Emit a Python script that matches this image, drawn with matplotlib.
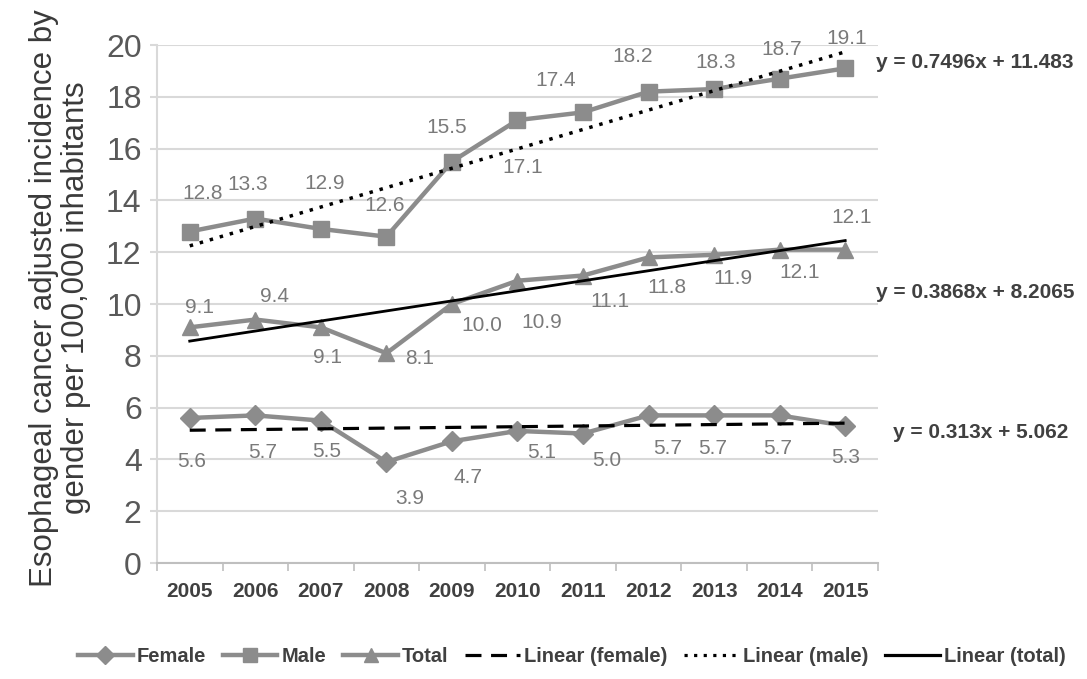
"""Esophageal cancer adjusted incidence by gender, 2005-2015, with linear trends."""

import matplotlib

matplotlib.use("Agg")
import matplotlib.pyplot as plt
import numpy as np
from matplotlib.lines import Line2D

years = ["2005", "2006", "2007", "2008", "2009", "2010", "2011", "2012", "2013", "2014", "2015"]
female = [5.6, 5.7, 5.5, 3.9, 4.7, 5.1, 5.0, 5.7, 5.7, 5.7, 5.3]
male = [12.8, 13.3, 12.9, 12.6, 15.5, 17.1, 17.4, 18.2, 18.3, 18.7, 19.1]
total = [9.1, 9.4, 9.1, 8.1, 10.0, 10.9, 11.1, 11.8, 11.9, 12.1, 12.1]
equations = ["y = 0.313x + 5.062", "y = 0.7496x + 11.483", "y = 0.3868x + 8.2065"]
y_ticks = [0, 2, 4, 6, 8, 10, 12, 14, 16, 18, 20]

SERIES_COLOR = "#8c8c8c"
LABEL_COLOR = "#7a7a7a"
TEXT_COLOR = "#404040"
GRID_COLOR = "#d9d9d9"
NARROW = ["Liberation Sans Narrow", "Liberation Sans", "DejaVu Sans"]

# label offsets in pixels (dx, dy), positive dy is up
female_offsets = [(2, -44), (7, -37), (6, -31), (23, -36), (16, -36), (24, -22),
                  (24, -27), (19, -33), (-1, -33), (-2, -33), (0, -32)]
male_offsets = [(13, 38), (-8, 34), (4, 45), (-2, 31), (-5, 34), (5, -47),
                (-27, 32), (-16, 35), (2, 27), (2, 29), (1, 30)]
total_offsets = [(10, 20), (19, 23), (7, -30), (33, -5), (30, -21), (24, -42),
                 (27, -26), (18, -30), (19, -24), (20, -23), (6, 32)]

plt.rcParams["font.family"] = ["Liberation Sans", "DejaVu Sans"]

figure = plt.figure(figsize=(10.87, 6.79), dpi=100)
axis = figure.add_axes([0.1444, 0.1708, 0.8077 - 0.1444, 0.9337 - 0.1708])

positions = np.arange(len(years))
series = [
    (female, "D", 10, female_offsets, "Female"),
    (male, "s", 11.5, male_offsets, "Male"),
    (total, "^", 12, total_offsets, "Total"),
]
for values, marker, size, offsets, name in series:
    axis.plot(positions, values, color=SERIES_COLOR, linewidth=3.2, marker=marker,
              markersize=size, markeredgecolor=SERIES_COLOR, zorder=3, label=name)
    for position, value, (dx, dy) in zip(positions, values, offsets):
        axis.annotate(f"{value:.1f}", (position, value), xytext=(dx, dy),
                      textcoords="offset pixels", ha="center", va="center",
                      fontsize=15, color=LABEL_COLOR, zorder=5)

# linear trendlines fitted on x = 1..11 like the spreadsheet does
trend_styles = [(female, (0, (5, 3)), 2.3), (male, (0, (1, 2)), 2.5), (total, "-", 2.0)]
x_fit = positions + 1
for values, style, width in trend_styles:
    slope, intercept = np.polyfit(x_fit, values, 1)
    axis.plot(positions, slope * x_fit + intercept, color="black", linestyle=style,
              linewidth=width, zorder=4)

equation_positions = [(893, 432), (876, 62), (876, 292)]
for text, (px, py) in zip(equations, equation_positions):
    figure.text(px / 1087, 1 - py / 679, text, ha="left", va="center",
                fontsize=15, fontweight="bold", color=TEXT_COLOR)

axis.set_xlim(-0.5, len(years) - 0.5)
axis.set_ylim(0, 20)
axis.set_yticks(y_ticks)
axis.set_yticklabels([str(tick) for tick in y_ticks], fontsize=23, color="#595959")
axis.set_xticks(positions)
axis.set_xticklabels(years, fontsize=15, fontweight="bold", color=TEXT_COLOR,
                     family=NARROW)
axis.set_xticks(np.arange(-0.5, len(years)), minor=True)
axis.tick_params(axis="x", which="major", length=0, pad=14)
axis.tick_params(axis="x", which="minor", length=6, color="#bfbfbf", width=1.2)
axis.tick_params(axis="y", length=5, color=GRID_COLOR, width=1.5, pad=6)
axis.grid(axis="y", color=GRID_COLOR, linewidth=1.5)
axis.set_axisbelow(True)
for side in ("top", "right"):
    axis.spines[side].set_visible(False)
axis.spines["left"].set_color(GRID_COLOR)
axis.spines["left"].set_linewidth(1.5)
axis.spines["bottom"].set_color("#bfbfbf")
axis.spines["bottom"].set_linewidth(1.5)

figure.text(0.055, 1 - 298 / 679,
            "Esophageal cancer adjusted incidence by\ngender per 100,000 inhabitants",
            rotation=90, ha="center", va="center", multialignment="center",
            fontsize=22.5, color="#3a3a3a", linespacing=1.08)

handles = [
    Line2D([], [], color=SERIES_COLOR, linewidth=3.2, marker="D", markersize=9),
    Line2D([], [], color=SERIES_COLOR, linewidth=3.2, marker="s", markersize=10),
    Line2D([], [], color=SERIES_COLOR, linewidth=3.2, marker="^", markersize=10),
    Line2D([], [], color="black", linewidth=2.3, linestyle=(0, (5, 3))),
    Line2D([], [], color="black", linewidth=2.3, linestyle=(0, (1, 2))),
    Line2D([], [], color="black", linewidth=2.3),
]
legend_labels = ["Female", "Male", "Total", "Linear (female)", "Linear (male)", "Linear (total)"]
legend = figure.legend(handles, legend_labels, loc="center", bbox_to_anchor=(0.526, 1 - 657 / 679),
                       ncol=6, frameon=False, handlelength=2.7, handletextpad=0.2,
                       columnspacing=0.85, prop={"family": NARROW, "size": 14.5, "weight": "bold"})
for text in legend.get_texts():
    text.set_color(TEXT_COLOR)

figure.savefig("out.png", dpi=100)
plt.close(figure)
